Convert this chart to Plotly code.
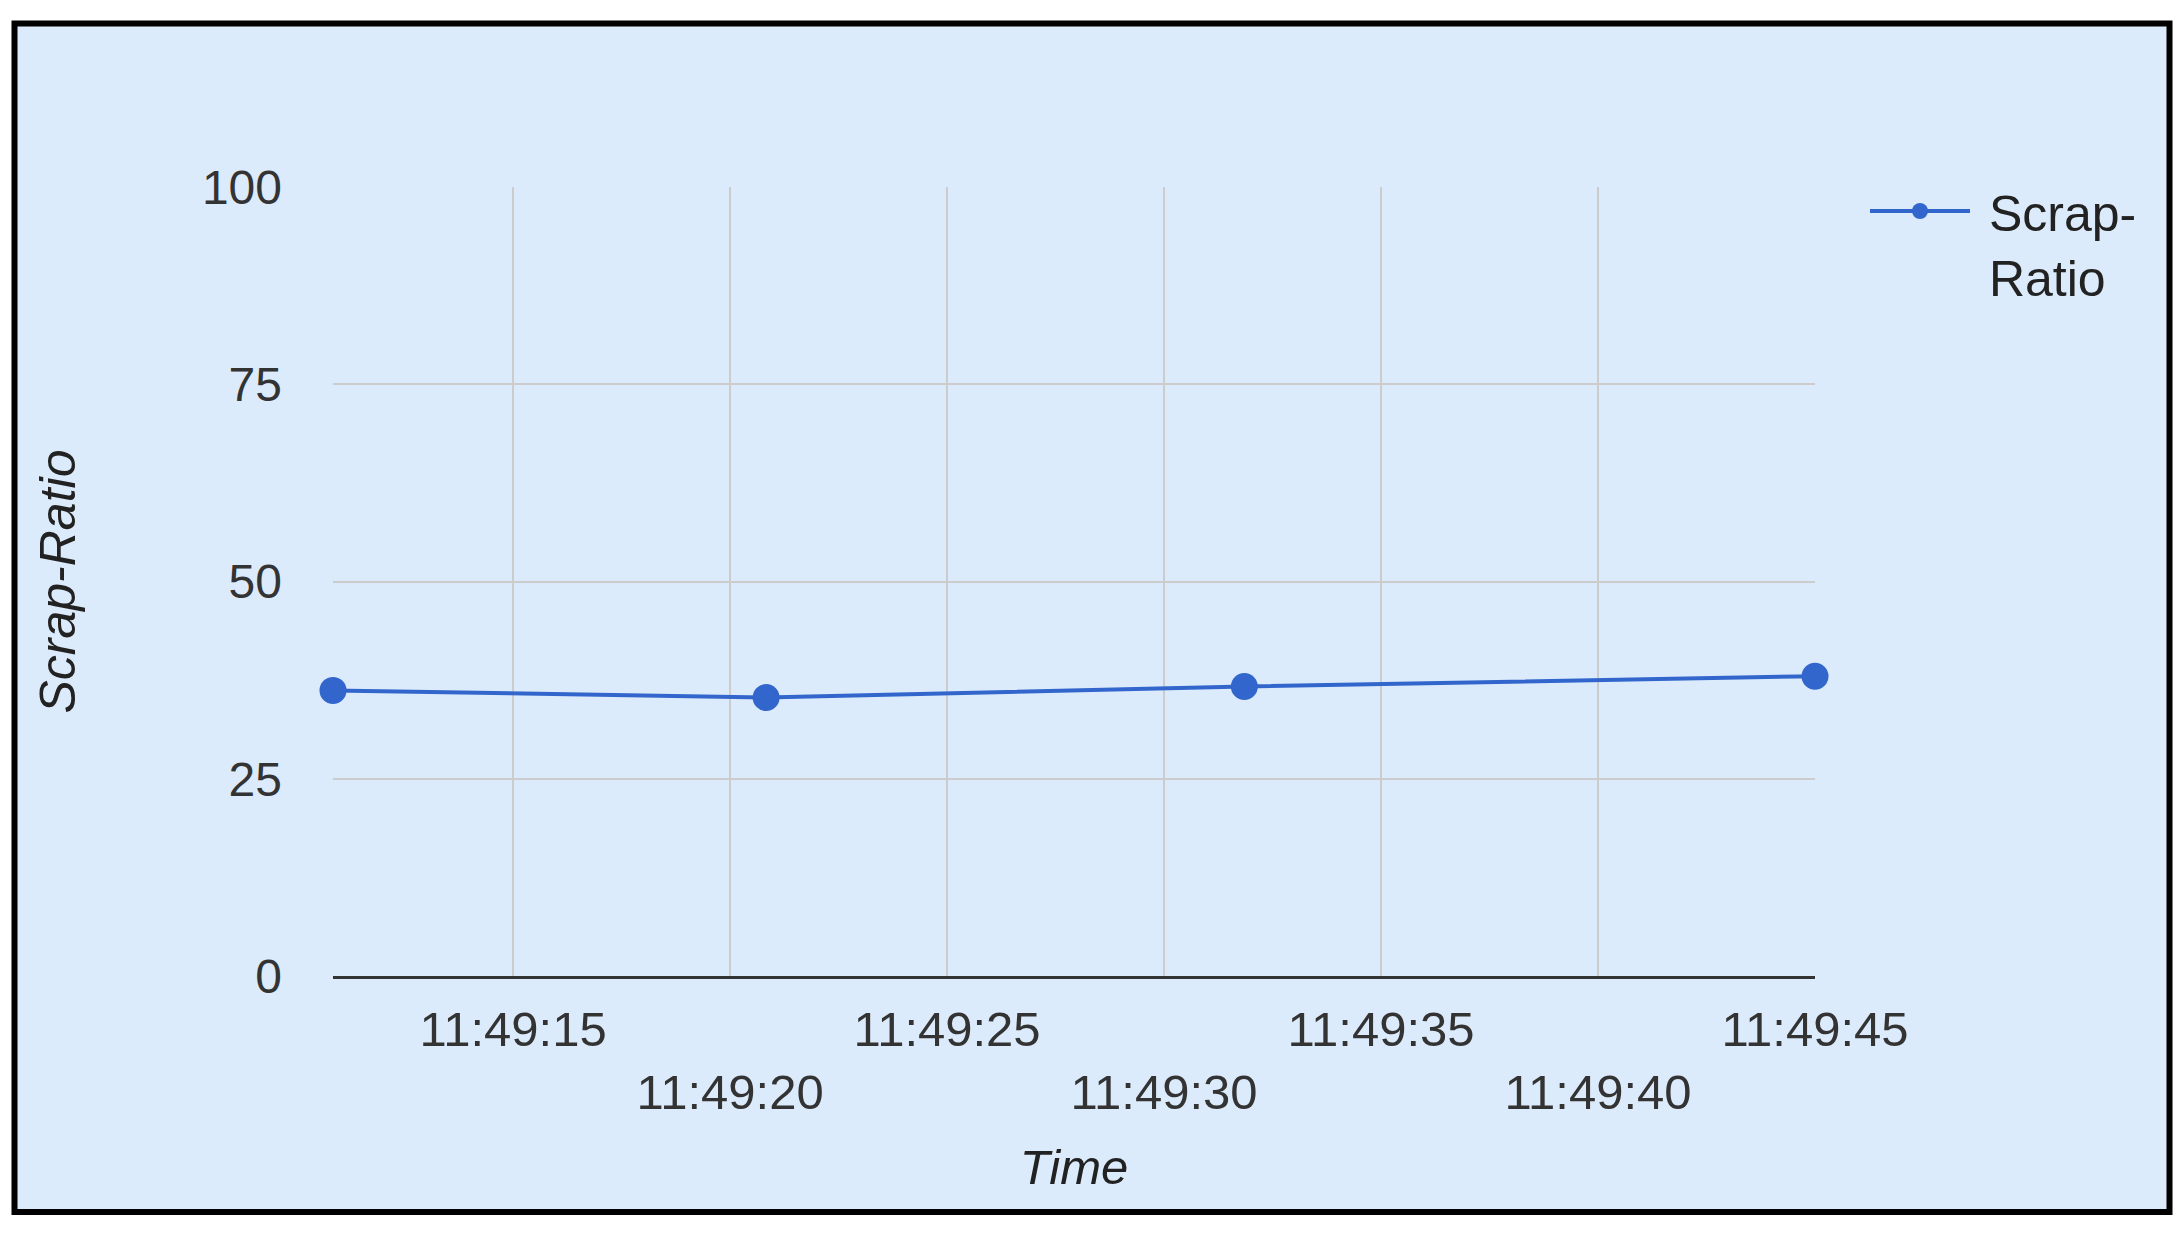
import plotly.graph_objects as go

# data
times = ["2024-01-01 11:49:10.85", "2024-01-01 11:49:20.83",
         "2024-01-01 11:49:31.85", "2024-01-01 11:49:45.00"]
scrap_ratio = [36.2, 35.3, 36.7, 38.0]

tick_times = ["2024-01-01 11:49:15", "2024-01-01 11:49:20", "2024-01-01 11:49:25",
              "2024-01-01 11:49:30", "2024-01-01 11:49:35", "2024-01-01 11:49:40",
              "2024-01-01 11:49:45"]
tick_labels = ["11:49:15", "11:49:20", "11:49:25", "11:49:30",
               "11:49:35", "11:49:40", "11:49:45"]
y_ticks = [0, 25, 50, 75, 100]

W, H = 2173, 1236
L, R, T, B = 333, 1815, 187, 976   # plot area in pixels
font = "Liberation Sans, Arial, sans-serif"
bg = "#dcebfb"
blue = "#3366cc"


def px(x):
    return (x - L) / (R - L)


def py(y):
    return (B - y) / (B - T)


# stagger every other label onto a second row
staggered = [t if i % 2 == 0 else "<br>" + t for i, t in enumerate(tick_labels)]

fig = go.Figure()
fig.add_trace(go.Scatter(
    x=times, y=scrap_ratio, name="\u00a0Scrap-<br>\u00a0Ratio",
    mode="lines+markers", cliponaxis=False,
    line=dict(color=blue, width=4),
    marker=dict(color=blue, size=27),
))

# outer frame
fig.add_shape(type="rect", xref="paper", yref="paper",
              x0=px(14.5), x1=px(2169.5), y0=py(1212), y1=py(23.5),
              line=dict(color="black", width=6), fillcolor=bg, layer="below")

fig.update_layout(
    width=W, height=H,
    margin=dict(l=L, r=W - R, t=T, b=H - B),
    paper_bgcolor="white", plot_bgcolor="rgba(0,0,0,0)",
    font=dict(family=font, size=49, color="#333"),
    showlegend=True,
    legend=dict(x=px(1865), y=py(172), xanchor="left", yanchor="top",
                bgcolor="rgba(0,0,0,0)", valign="top", itemwidth=100,
                font=dict(size=50, color="#222")),
    xaxis=dict(
        range=[times[0], times[-1]], tickvals=tick_times, ticktext=staggered,
        showgrid=True, gridcolor="#cccccc", gridwidth=1.5,
        showline=True, linecolor="#333", linewidth=2.5,
        zeroline=False, ticks="", ticklabelstandoff=8,
        tickfont=dict(size=49, color="#333"),
        title=dict(text="<i>Time</i>", standoff=32, font=dict(size=49, color="#222")),
    ),
    yaxis=dict(
        range=[0, 100], tickvals=y_ticks,
        showgrid=True, gridcolor="#cccccc", gridwidth=1.5,
        showline=False, zeroline=False, ticks="", ticklabelstandoff=50,
        tickfont=dict(size=48, color="#333"),
        title=dict(text="<i>Scrap-Ratio</i>", standoff=110, font=dict(size=50, color="#222")),
    ),
)

# drop the default 8px body margin so the figure fills the window
fig.write_html("out.html", config={"displayModeBar": False},
               post_script="document.body.style.margin = '0';")
